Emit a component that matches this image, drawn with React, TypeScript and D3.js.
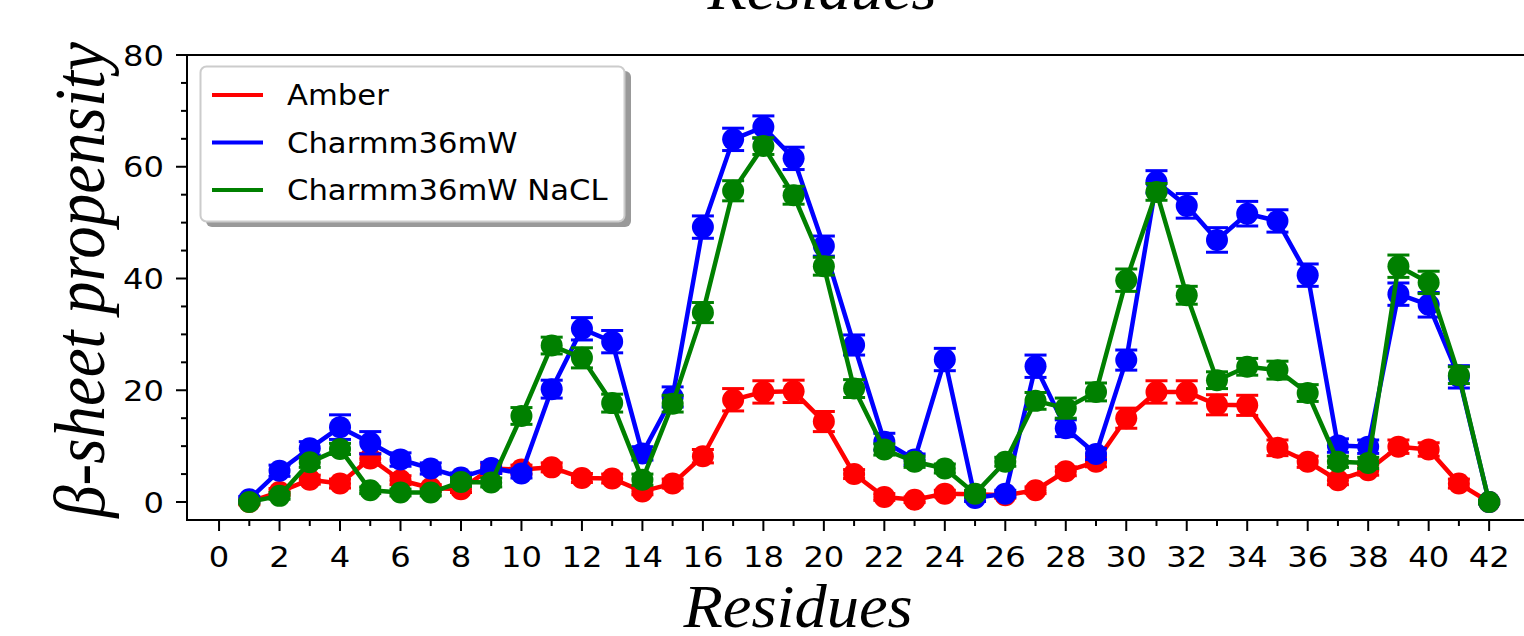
import React, { useEffect, useRef } from 'react';
import * as d3 from 'd3';

// residue numbers 1..42
const residues = [
    1, 2, 3, 4, 5, 6, 7, 8, 9, 10, 11, 12, 13, 14, 15, 16, 17, 18, 19, 20, 21,
    22, 23, 24, 25, 26, 27, 28, 29, 30, 31, 32, 33, 34, 35, 36, 37, 38, 39, 40, 41, 42
];

const amber = [
    0, 1.8, 4.0, 3.3, 7.8, 3.9, 2.5, 2.3, 6.0, 5.8, 6.2, 4.3, 4.2, 1.9, 3.3, 8.2, 18.3, 19.7, 19.8, 14.4, 5.0,
    0.9, 0.4, 1.5, 1.4, 1.2, 2.1, 5.5, 7.2, 15.0, 19.7, 19.7, 17.4, 17.3, 9.7, 7.2, 3.9, 5.7, 9.9, 9.4, 3.3, 0
];
const amberErr = [
    0.5, 0.6, 0.8, 0.8, 0.9, 0.8, 0.6, 0.6, 0.8, 0.8, 0.8, 0.8, 0.8, 0.6, 0.8, 1.2, 2.0, 2.0, 2.0, 1.8, 0.8,
    0.6, 0.5, 0.6, 0.5, 0.5, 0.6, 0.8, 0.9, 1.8, 2.0, 2.0, 1.8, 1.8, 1.4, 1.0, 0.8, 0.9, 1.2, 1.2, 0.8, 0.3
];

const charmm = [
    0.5, 5.6, 9.6, 13.4, 10.6, 7.6, 6.0, 4.4, 6.1, 5.1, 20.2, 31.0, 28.7, 8.7, 18.8, 49.2, 64.9, 67.1, 61.5, 45.8, 28.1,
    10.8, 7.6, 25.5, 0.7, 1.5, 24.3, 13.2, 8.6, 25.4, 57.3, 53.0, 46.9, 51.6, 50.3, 40.6, 10.1, 9.9, 37.2, 35.3, 22.4, 0
];
const charmmErr = [
    0.5, 1.0, 1.2, 2.2, 2.0, 1.2, 1.0, 0.8, 1.0, 0.8, 1.6, 2.0, 2.0, 1.2, 1.8, 2.0, 2.0, 2.0, 2.0, 1.8, 1.8,
    1.5, 1.0, 2.0, 0.6, 0.6, 2.0, 1.5, 1.0, 1.8, 2.0, 2.2, 2.2, 2.2, 2.0, 2.0, 1.2, 1.2, 2.0, 2.2, 2.0, 0.3
];

const charmmNacl = [
    0, 1.1, 7.1, 9.5, 2.1, 1.7, 1.7, 3.6, 3.5, 15.4, 28.0, 25.8, 17.7, 4.0, 17.6, 33.9, 55.7, 63.7, 54.9, 42.2, 20.3,
    9.4, 7.2, 6.0, 1.5, 7.2, 18.1, 16.8, 19.7, 39.7, 55.5, 37.0, 21.8, 24.2, 23.6, 19.5, 7.2, 7.0, 42.2, 39.3, 22.7, 0
];
const charmmNaclErr = [
    0.3, 0.6, 0.9, 1.0, 0.6, 0.6, 0.6, 0.8, 0.8, 1.5, 1.5, 1.8, 1.6, 1.0, 1.5, 1.8, 1.8, 1.5, 1.6, 1.6, 1.6,
    1.0, 1.0, 0.8, 0.6, 0.8, 1.5, 1.8, 1.6, 2.0, 1.5, 1.6, 1.5, 1.5, 1.6, 1.5, 1.0, 1.0, 2.0, 2.0, 1.5, 0.3
];

const seriesNames = ['Amber', 'Charmm36mW', 'Charmm36mW NaCL'];
const seriesColors = ['#ff0000', '#0000ff', '#008000'];

const xTicks = d3.range(0, 43, 2);
const xMinorTicks = d3.range(1, 43, 2);
const yTicks = [0, 20, 40, 60, 80];
const yMinorTicks = d3.range(5, 80, 5).filter(v => v % 20 !== 0);

const App = () => {
    const svgRef = useRef(null);

    useEffect(() => {
        const width = 1524,
              left = 187,
              top = 55,
              bottom = 520,
              unit = 30.24,      // px per residue in the reference
              stretch = 1.13;    // the reference text is a little wider than it is tall

        const svg = d3.select(svgRef.current);
        svg.selectAll('*').remove();

        const x = d3.scaleLinear().domain([-1.06, 44]).range([left, left + 45.06 * unit]);
        const y = d3.scaleLinear().domain([-3.22, 80]).range([bottom, top]);

        // ticks
        const tickGroup = svg.append('g').attr('stroke', '#000').attr('stroke-width', 2);
        xTicks.forEach(t => {
            tickGroup.append('line').attr('x1', x(t)).attr('x2', x(t)).attr('y1', bottom).attr('y2', bottom + 11);
        });
        xMinorTicks.forEach(t => {
            tickGroup.append('line').attr('x1', x(t)).attr('x2', x(t)).attr('y1', bottom).attr('y2', bottom + 6);
        });
        yTicks.forEach(t => {
            tickGroup.append('line').attr('x1', left - 11).attr('x2', left).attr('y1', y(t)).attr('y2', y(t));
        });
        yMinorTicks.forEach(t => {
            tickGroup.append('line').attr('x1', left - 6).attr('x2', left).attr('y1', y(t)).attr('y2', y(t));
        });

        const labelGroup = svg.append('g')
            .style('font-family', 'DejaVu Sans')
            .style('font-size', '28.5px')
            .attr('fill', '#000');
        xTicks.forEach(t => {
            labelGroup.append('text')
                .attr('transform', `translate(${x(t)}, 567) scale(${stretch}, 1)`)
                .attr('text-anchor', 'middle').text(t);
        });
        yTicks.forEach(t => {
            labelGroup.append('text')
                .attr('transform', `translate(164, ${y(t) + 10.5}) scale(${stretch}, 1)`)
                .attr('text-anchor', 'end').text(t);
        });

        // data
        const allSeries = [
            { values: amber, err: amberErr },
            { values: charmm, err: charmmErr },
            { values: charmmNacl, err: charmmNaclErr }
        ];

        const line = d3.line()
            .x(d => x(d[0]))
            .y(d => y(d[1]));

        allSeries.forEach((s, si) => {
            const color = seriesColors[si];
            const g = svg.append('g');
            const pts = residues.map((r, i) => [r, s.values[i], s.err[i]]);

            g.append('path')
                .attr('d', line(pts))
                .attr('fill', 'none')
                .attr('stroke', color)
                .attr('stroke-width', 4.5)
                .attr('stroke-linejoin', 'round');

            const eb = g.append('g').attr('stroke', color).attr('stroke-width', 3);
            pts.forEach(p => {
                const cx = x(p[0]);
                eb.append('line').attr('x1', cx).attr('x2', cx).attr('y1', y(p[1] - p[2])).attr('y2', y(p[1] + p[2]));
                [p[1] - p[2], p[1] + p[2]].forEach(v => {
                    eb.append('line').attr('x1', cx - 11).attr('x2', cx + 11).attr('y1', y(v)).attr('y2', y(v));
                });
            });

            g.append('g').attr('fill', color)
                .selectAll('circle')
                .data(pts)
                .enter()
                .append('circle')
                .attr('cx', d => x(d[0]))
                .attr('cy', d => y(d[1]))
                .attr('r', 11);
        });

        // spines (right one is off the picture)
        const spines = svg.append('g').attr('stroke', '#000').attr('stroke-width', 2).attr('fill', 'none');
        spines.append('path').attr('d', `M${width + 5},${top}H${left}V${bottom}H${width + 5}`);

        // legend
        const lg = svg.append('g');
        lg.append('rect').attr('x', 206).attr('y', 71).attr('width', 425).attr('height', 156)
            .attr('rx', 6).attr('fill', '#999');
        lg.append('rect').attr('x', 200.5).attr('y', 66.5).attr('width', 424).attr('height', 155)
            .attr('rx', 6).attr('fill', '#fff').attr('stroke', '#ccc').attr('stroke-width', 2);
        seriesNames.forEach((name, i) => {
            const ly = 95 + i * 47.5;
            lg.append('line').attr('x1', 212).attr('x2', 263).attr('y1', ly).attr('y2', ly)
                .attr('stroke', seriesColors[i]).attr('stroke-width', 4);
            lg.append('text')
                .attr('transform', `translate(287, ${ly + 10}) scale(1.095, 1)`)
                .style('font-family', 'DejaVu Sans').style('font-size', '28px')
                .text(name);
        });

        // axis titles
        const serif = (sel) => sel
            .style('font-family', 'Liberation Serif')
            .style('font-style', 'italic')
            .style('font-size', '62px');

        svg.append('text')
            .attr('transform', 'translate(798, 627) scale(1.04, 1)')
            .attr('text-anchor', 'middle')
            .call(serif)
            .text('Residues');

        svg.append('text')
            .attr('transform', 'translate(822, 9) scale(1.04, 1)')
            .attr('text-anchor', 'middle')
            .call(serif)
            .text('Residues');

        svg.append('text')
            .attr('transform', `translate(104, 280) scale(1.1, 1) rotate(-90)`)
            .attr('text-anchor', 'middle')
            .call(serif)
            .style('font-size', '65px')
            .text('β-sheet propensity');
    }, []);

    return (
        <svg ref={svgRef} width={1524} height={636}
            style={{ position: 'absolute', left: 0, top: 0, background: '#fff' }}></svg>
    );
};

export default App;
